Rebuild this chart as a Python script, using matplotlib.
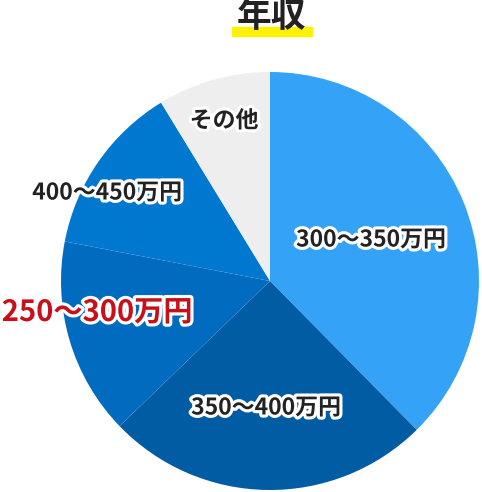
''' 年収 pie chart '''

import matplotlib.pyplot as plt
import matplotlib.patheffects as pe
from matplotlib.patches import Rectangle

plt.rcParams['font.family'] = ['Noto Sans CJK JP', 'DejaVu Sans']

labels = ['300～350万円', '350～400万円', '250～300万円', '400～450万円', 'その他']
shares = [37.5, 25.1, 15.2, 13.2, 8.7]
colors = ['#34a2f6', '#015ca3', '#016cbf', '#0178d0', '#eeeeee']

W, H = 482, 492
fig = plt.figure(figsize=(W / 100, H / 100), dpi=100)
ax = fig.add_axes([0, 0, 1, 1])

ax.pie(shares, colors=colors, startangle=90, counterclock=False,
       center=(270, H - 281), radius=209,
       wedgeprops={'linewidth': 0})

# pie() resets the limits, so set them afterwards
ax.set_xlim(0, W)
ax.set_ylim(0, H)
ax.set_aspect('equal')
ax.axis('off')

# label positions in pixels from top-left
label_pos = [(371, 240), (266, 408), (97, 312), (107, 193), (224, 121)]
outline = [pe.withStroke(linewidth=4.5, foreground='white')]
for text, (x, y) in zip(labels, label_pos):
    red = text.startswith('250')
    ax.text(x, H - y, text, ha='center', va='center',
            fontsize=21 if red else 16.5, fontweight='bold',
            color='#c8101a' if red else '#222222',
            path_effects=outline)

# title with yellow marker underline
ax.add_patch(Rectangle((232, H - 36), 80, 9, color='#fff100', zorder=1))
ax.text(271, H - 16, '年収', ha='center', va='center', fontsize=25,
        fontweight='bold', color='#222222', zorder=2)

fig.savefig('out.png', dpi=100)
